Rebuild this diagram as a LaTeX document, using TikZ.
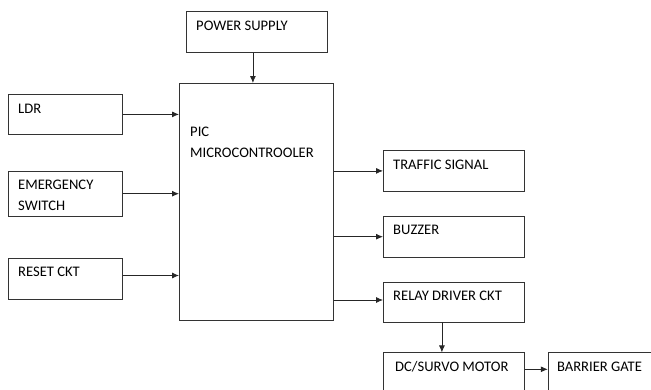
\documentclass[tikz,border=0pt]{standalone}
\usepackage{fontspec}
\setmainfont{Carlito}
\usetikzlibrary{
  arrows.meta,
  positioning,
}
\tikzstyle{block} = [
  rectangle,
  draw=black!80,
  line width=0.8pt,
  inner sep=0pt,
  minimum width=141,
  minimum height=41,
]
\tikzstyle{arrow} = [
  -{Latex[length=7pt,width=6pt]},
  line width=0.8pt,
  black!85,
]
\tikzset{blocktext/.style={anchor=base west, inner sep=0pt, align=left, text=black, font=\fontsize{14.6}{21}\selectfont}}

\begin{document}
\begin{tikzpicture}[x=1pt,y=1pt]
			\useasboundingbox (0,0) rectangle (651,-389);

			\node[block,anchor=north west,label={[blocktext,xshift=10pt,yshift=-19pt]north west:POWER SUPPLY}] (power) at (186,-11) {};
			\node[block,anchor=north west,minimum width=154,minimum height=237,label={[blocktext,xshift=11pt,yshift=-74pt]north west:{PIC\\MICROCONTROOLER}}] (pic) at (179,-83) {};

			\node[block,anchor=north west,minimum width=114,minimum height=40,label={[blocktext,xshift=10pt,yshift=-19pt]north west:LDR}] (ldr) at (8,-94) {};
			\node[block,minimum width=114,minimum height=45,label={[blocktext,xshift=10pt,yshift=-40pt]north west:{EMERGENCY\\SWITCH}}] (emergency) [below=36 of ldr] {};
			\node[block,minimum width=114,label={[blocktext,xshift=10pt,yshift=-19pt]north west:RESET CKT}] (reset) [below=41 of emergency] {};

			\node[block,anchor=north west,label={[blocktext,xshift=10pt,yshift=-19pt]north west:TRAFFIC SIGNAL}] (traffic) at (383,-150) {};
			\node[block,label={[blocktext,xshift=10pt,yshift=-19pt]north west:BUZZER}] (buzzer) [below=24 of traffic] {};
			\node[block,minimum height=40,label={[blocktext,xshift=10pt,yshift=-19pt]north west:RELAY DRIVER CKT}] (relay) [below=24 of buzzer] {};
			\node[block,label={[blocktext,xshift=12pt,yshift=-19pt]north west:DC/SURVO MOTOR}] (motor) [below=30 of relay] {};
			\node[block,minimum width=103,label={[blocktext,xshift=9pt,yshift=-19pt]north west:BARRIER GATE}] (gate) [right=23 of motor] {};

			\draw[arrow] ([xshift=-4]power.south) -- ([xshift=-4]power.south |- pic.north);
			\draw[arrow] (ldr.east) -- (ldr.east -| pic.west);
			\draw[arrow] (emergency.east) -- (emergency.east -| pic.west);
			\draw[arrow] ([yshift=3]reset.east) -- ([yshift=3]reset.east -| pic.west);

			\draw[arrow] (pic.east |- traffic.west) -- (traffic.west);
			\draw[arrow] (pic.east |- buzzer.west) -- (buzzer.west);
			\draw[arrow] ([yshift=2]pic.east |- relay.west) -- ([yshift=2]relay.west);
			\draw[arrow] ([xshift=-12]relay.south) -- ([xshift=-12]relay.south |- motor.north);
			\draw[arrow] ([yshift=4]motor.east) -- ([yshift=4]motor.east -| gate.west);
		\end{tikzpicture}
\end{document}
